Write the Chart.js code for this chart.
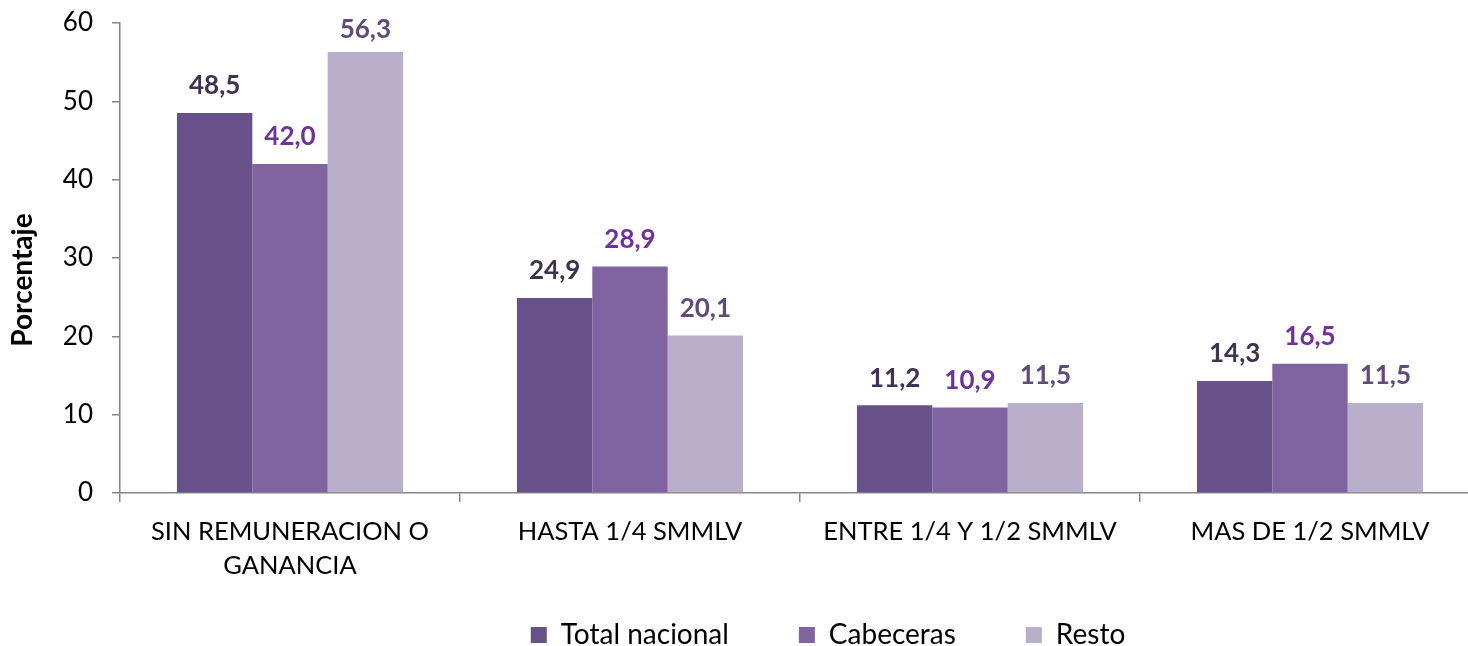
<!DOCTYPE html>
<html>
<head>
<meta charset="utf-8">
<script src="https://cdn.jsdelivr.net/npm/chart.js@4"></script>
<style>
  html, body { margin: 0; padding: 0; background: #fff; overflow: hidden; }
  #wrap { width: 1482px; height: 646px; }
</style>
</head>
<body>
<div id="wrap"><canvas id="chart"></canvas></div>
<script>
const categories = [
    ['SIN REMUNERACION O', 'GANANCIA'],
    'HASTA 1/4 SMMLV',
    'ENTRE 1/4 Y 1/2 SMMLV',
    'MAS DE 1/2 SMMLV'
];
const seriesNames = ['Total nacional', 'Cabeceras', 'Resto'];
const totalNacional = [48.5, 24.9, 11.2, 14.3];
const cabeceras = [42.0, 28.9, 10.9, 16.5];
const resto = [56.3, 20.1, 11.5, 11.5];
const yTicks = [0, 10, 20, 30, 40, 50, 60];

const barColors = ['#68518A', '#8064A2', '#B9AFCB'];
const labelColors = ['#3F3151', '#7030A0', '#604A7B'];
const FONT = 'Lato, "Open Sans", sans-serif';
const AXIS = '#868686';

// value labels above bars, comma decimals
const valueLabels = {
    id: 'valueLabels',
    afterDatasetsDraw(chart) {
        const ctx = chart.ctx;
        ctx.save();
        ctx.font = 'bold 26px ' + FONT;
        ctx.textAlign = 'center';
        ctx.textBaseline = 'middle';
        chart.data.datasets.forEach((ds, i) => {
            const meta = chart.getDatasetMeta(i);
            ctx.fillStyle = labelColors[i];
            meta.data.forEach((bar, j) => {
                const txt = ds.data[j].toFixed(1).replace('.', ',');
                ctx.fillText(txt, bar.x, Math.max(bar.y - 27, 30));
            });
        });
        ctx.restore();
    }
};

// legend: wide item gaps, low reserved height, sits a bit right of centre like the original
// y title: drawn a little below the middle of the axis, as in the original
const layoutTweaks = {
    id: 'layoutTweaks',
    beforeInit(chart) {
        const fit = chart.legend.fit;
        chart.legend.fit = function () {
            fit.bind(chart.legend)();
            this.height = 58;
        };
    },
    afterLayout(chart) {
        const lg = chart.legend;
        lg.top = lg.bottom - 95;
        lg.left += 176;

        const y = chart.scales.y;
        if (!y._titleShifted) {
            const drawTitle = y.drawTitle;
            y.drawTitle = function () {
                this.ctx.save();
                this.ctx.translate(0, 22);
                drawTitle.call(this);
                this.ctx.restore();
            };
            y._titleShifted = true;
        }
    }
};

new Chart(document.getElementById('chart'), {
    type: 'bar',
    data: {
        labels: categories,
        datasets: [
            { label: seriesNames[0], data: totalNacional, backgroundColor: barColors[0] },
            { label: seriesNames[1], data: cabeceras, backgroundColor: barColors[1] },
            { label: seriesNames[2], data: resto, backgroundColor: barColors[2] }
        ]
    },
    options: {
        responsive: true,
        maintainAspectRatio: false,
        animation: false,
        layout: { padding: { top: 23, right: 2, left: 0, bottom: 0 } },
        datasets: {
            bar: { categoryPercentage: 0.665, barPercentage: 1.0, borderWidth: 0 }
        },
        scales: {
            x: {
                afterFit: s => { s.height = 95; },
                border: { color: AXIS, width: 1.5 },
                grid: { drawOnChartArea: false, color: AXIS, lineWidth: 1.5, tickLength: 9 },
                ticks: {
                    color: '#000',
                    font: { family: FONT, size: 25.5, lineHeight: 1.33 },
                    padding: 13,
                    maxRotation: 0
                }
            },
            y: {
                min: 0,
                max: 60,
                afterFit: s => { s.width = 120; s.paddingTop = 0; s.paddingBottom = 0; },
                afterBuildTicks: s => { s.ticks = yTicks.map(v => ({ value: v })); },
                border: { color: AXIS, width: 1.5 },
                grid: { drawOnChartArea: false, color: AXIS, lineWidth: 1.5, tickLength: 8 },
                ticks: {
                    color: '#000',
                    font: { family: FONT, size: 26 },
                    padding: 19
                },
                title: {
                    display: true,
                    text: 'Porcentaje',
                    color: '#000',
                    font: { family: FONT, size: 28, weight: 'bold' },
                    padding: { top: 6 }
                }
            }
        },
        plugins: {
            legend: {
                position: 'bottom',
                labels: {
                    color: '#000',
                    font: { family: FONT, size: 28 },
                    boxWidth: 16,
                    boxHeight: 16,
                    padding: 70
                }
            },
            tooltip: { enabled: false }
        }
    },
    plugins: [valueLabels, layoutTweaks]
});
</script>
</body>
</html>
